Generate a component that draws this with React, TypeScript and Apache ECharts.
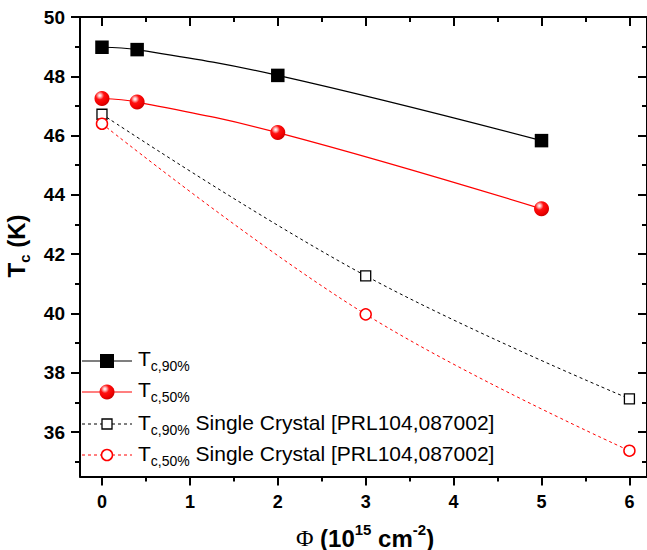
import React, { useEffect, useRef } from "react";
import * as echarts from "echarts";

// Axis ticks and labels
const xTickValues = [0, 1, 2, 3, 4, 5, 6];
const xMinorValues = [0.5, 1.5, 2.5, 3.5, 4.5, 5.5];
const yTickValues = [36, 38, 40, 42, 44, 46, 48, 50];
const yMinorValues = [35, 37, 39, 41, 43, 45, 47, 49];

// Irradiated film: fluence (10^15 cm^-2) and Tc (K)
const filmFluence = [0, 0.4, 2, 5];
const filmTc90 = [48.98, 48.9, 48.03, 45.83];
const filmTc50 = [47.25, 47.13, 46.1, 43.53];

// Single crystal reference data [PRL104,087002]
const crystalFluence = [0, 3, 6];
const crystalTc90 = [46.72, 41.27, 37.12];
const crystalTc50 = [46.4, 39.97, 35.37];

const legendSubs = ["c,90%", "c,50%", "c,90%", "c,50%"];
const legendSuffix = ["", "", " Single Crystal [PRL104,087002]", " Single Crystal [PRL104,087002]"];

const SANS = "'Liberation Sans', Arial, Helvetica, sans-serif";
const SERIF = "'Liberation Serif', 'Times New Roman', serif";

const sphere = {
  type: "radial",
  x: 0.36,
  y: 0.3,
  r: 0.7,
  colorStops: [
    { offset: 0, color: "#ffffff" },
    { offset: 0.14, color: "#ffc0c0" },
    { offset: 0.4, color: "#ff1010" },
    { offset: 0.8, color: "#f00000" },
    { offset: 1, color: "#cc0000" },
  ],
};

const pairs = (xs: number[], ys: number[]) => xs.map((x, i) => [x, ys[i]]);

const X_MIN = -0.25;
const X_MAX = 6.2;
const Y_MIN = 34.5;
const Y_MAX = 50;

function makeXAxis(position: "top" | "bottom", minor: boolean, showLabel: boolean) {
  return {
    type: "value",
    position,
    min: X_MIN,
    max: X_MAX,
    axisLine: { show: !minor, onZero: false, lineStyle: { color: "#000", width: 2 } },
    axisTick: {
      show: true,
      inside: position === "top",
      length: minor ? 5 : 9,
      customValues: minor ? xMinorValues : xTickValues,
      lineStyle: { color: "#000", width: 2 },
    },
    axisLabel: {
      show: showLabel,
      customValues: xTickValues,
      margin: 16,
      color: "#000",
      fontSize: 18,
      fontWeight: "bold",
      fontFamily: SANS,
    },
    splitLine: { show: false },
    minorTick: { show: false },
  };
}

function makeYAxis(position: "left" | "right", minor: boolean, showLabel: boolean) {
  return {
    type: "value",
    position,
    min: Y_MIN,
    max: Y_MAX,
    axisLine: { show: !minor, onZero: false, lineStyle: { color: "#000", width: 2 } },
    axisTick: {
      show: true,
      inside: position === "right",
      length: minor ? 5 : 9,
      customValues: minor ? yMinorValues : yTickValues,
      lineStyle: { color: "#000", width: 2 },
    },
    axisLabel: {
      show: showLabel,
      customValues: yTickValues,
      margin: 15,
      color: "#000",
      fontSize: 19,
      fontWeight: "bold",
      fontFamily: SANS,
    },
    splitLine: { show: false },
    minorTick: { show: false },
  };
}

function legendRows() {
  const rowSymbolY = [361, 392, 424, 455];
  const rowTextY = [358, 389, 422, 453];
  const x1 = 82;
  const x2 = 132;
  const cx = 107;
  const els: any[] = [];
  const lineStyles = [
    { stroke: "#000", lineWidth: 1.2 },
    { stroke: "#ff0000", lineWidth: 1.2 },
    { stroke: "#000", lineWidth: 1, lineDash: [3, 3] },
    { stroke: "#ff0000", lineWidth: 1, lineDash: [3, 3] },
  ];
  rowSymbolY.forEach((y, i) => {
    els.push({ type: "line", shape: { x1, y1: y, x2, y2: y }, style: lineStyles[i], z: 10 });
  });
  els.push({ type: "rect", shape: { x: cx - 7, y: rowSymbolY[0] - 7, width: 14, height: 14 }, style: { fill: "#000" }, z: 11 });
  els.push({ type: "circle", shape: { cx, cy: rowSymbolY[1], r: 7.5 }, style: { fill: sphere }, z: 11 });
  els.push({
    type: "rect",
    shape: { x: cx - 5, y: rowSymbolY[2] - 5, width: 10, height: 10 },
    style: { fill: "#fff", stroke: "#000", lineWidth: 1.3 },
    z: 11,
  });
  els.push({
    type: "circle",
    shape: { cx, cy: rowSymbolY[3], r: 5.5 },
    style: { fill: "#fff", stroke: "#ff0000", lineWidth: 1.5 },
    z: 11,
  });
  rowTextY.forEach((y, i) => {
    const suffix = legendSuffix[i] ? `{t|${legendSuffix[i]}}` : "";
    els.push({
      type: "text",
      x: 138,
      y,
      z: 11,
      style: {
        text: `{t|T}{s|${legendSubs[i]}}${suffix}`,
        verticalAlign: "middle",
        fill: "#000",
        rich: {
          t: { fontSize: 21, lineHeight: 30, fontFamily: SANS, fill: "#000" },
          s: { fontSize: 14, lineHeight: 14, verticalAlign: "bottom", fontFamily: SANS, fill: "#000" },
        },
      },
    });
  });
  return els;
}

export default function App() {
  const ref = useRef<HTMLDivElement>(null);

  useEffect(() => {
    if (!ref.current) return;
    const chart = echarts.init(ref.current, undefined, { renderer: "svg" });
    const option: any = {
      animation: false,
      backgroundColor: "#fff",
      grid: { left: 80, top: 17, width: 568.7, height: 459.5, containLabel: false },
      xAxis: [
        makeXAxis("bottom", false, true),
        makeXAxis("bottom", true, false),
        makeXAxis("top", false, false),
        makeXAxis("top", true, false),
      ],
      yAxis: [
        makeYAxis("left", false, true),
        makeYAxis("left", true, false),
        makeYAxis("right", false, false),
        makeYAxis("right", true, false),
      ],
      series: [
        {
          name: "Tc,90%",
          type: "line",
          smooth: 0.4,
          data: pairs(filmFluence, filmTc90),
          symbol: "rect",
          symbolSize: 13.5,
          lineStyle: { color: "#000", width: 1.2 },
          itemStyle: { color: "#000" },
          z: 4,
        },
        {
          name: "Tc,50%",
          type: "line",
          smooth: 0.4,
          data: pairs(filmFluence, filmTc50),
          symbol: "circle",
          symbolSize: 15,
          lineStyle: { color: "#ff0000", width: 1.2 },
          itemStyle: { color: sphere },
          z: 4,
        },
        {
          name: "Tc,90% Single Crystal",
          type: "line",
          smooth: 0.4,
          data: pairs(crystalFluence, crystalTc90),
          symbol: "rect",
          symbolSize: 10,
          lineStyle: { color: "#000", width: 1, type: [3, 3] },
          itemStyle: { color: "#fff", borderColor: "#000", borderWidth: 1.3 },
          z: 3,
        },
        {
          name: "Tc,50% Single Crystal",
          type: "line",
          smooth: 0.4,
          data: pairs(crystalFluence, crystalTc50),
          symbol: "circle",
          symbolSize: 11,
          lineStyle: { color: "#ff0000", width: 1, type: [3, 3] },
          itemStyle: { color: "#fff", borderColor: "#ff0000", borderWidth: 1.5 },
          z: 3,
        },
      ],
      graphic: [
        ...legendRows(),
        {
          type: "text",
          x: 365,
          y: 538,
          style: {
            text: "{p|Φ}{b| (10}{u|15}{b| cm}{u|-2}{b|)}",
            align: "center",
            verticalAlign: "middle",
            rich: {
              p: { fontSize: 24, lineHeight: 32, fontFamily: SERIF, fill: "#000" },
              b: { fontSize: 24, lineHeight: 32, fontWeight: "bold", fontFamily: SANS, fill: "#000" },
              u: { fontSize: 15, lineHeight: 15, verticalAlign: "top", fontWeight: "bold", fontFamily: SANS, fill: "#000" },
            },
          },
        },
        {
          type: "text",
          x: 16,
          y: 246,
          rotation: Math.PI / 2,
          style: {
            text: "{t|T}{s|c}{t| (K)}",
            align: "center",
            verticalAlign: "middle",
            rich: {
              t: { fontSize: 24, lineHeight: 32, fontWeight: "bold", fontFamily: SANS, fill: "#000" },
              s: { fontSize: 15, lineHeight: 15, verticalAlign: "bottom", fontWeight: "bold", fontFamily: SANS, fill: "#000" },
            },
          },
        },
      ],
    };
    chart.setOption(option);
    return () => chart.dispose();
  }, []);

  return (
    <div
      ref={ref}
      style={{ position: "fixed", left: 0, top: 0, width: 647, height: 550, background: "#fff" }}
    />
  );
}
